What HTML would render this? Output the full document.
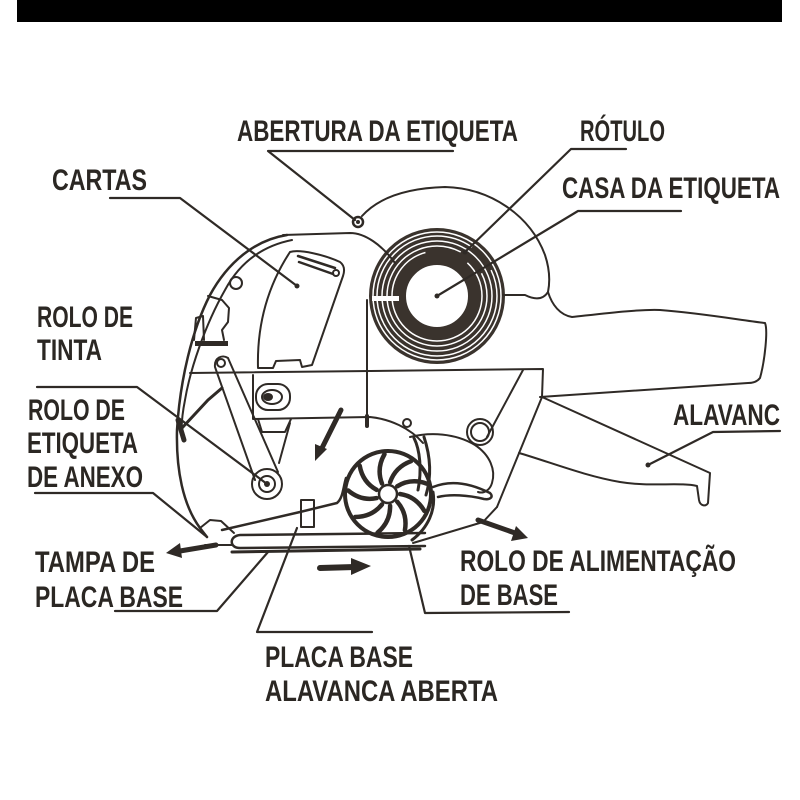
<!DOCTYPE html>
<html><head><meta charset="utf-8"><style>
html,body{margin:0;padding:0;background:#fff;}
svg{display:block}
text{font-family:"Liberation Sans",sans-serif;font-weight:bold;font-size:30px;fill:#2b2723}
</style></head><body>
<svg width="800" height="800" viewBox="0 0 800 800" xmlns="http://www.w3.org/2000/svg">
<rect x="0" y="0" width="800" height="800" fill="#fff"/>
<rect x="17" y="0" width="765" height="22" fill="#000"/>

<!-- Label roll -->
<circle cx="437" cy="296" r="50" fill="none" stroke="#3a332d" stroke-width="36"/>
<g fill="none" stroke="#fff" stroke-width="1.5">
  <circle cx="437" cy="296" r="45" stroke-dasharray="200 45"/>
  <circle cx="437" cy="296" r="50" stroke-dasharray="260 30"/>
  <circle cx="437" cy="296" r="55"/>
  <circle cx="437" cy="296" r="60" stroke-dasharray="320 30"/>
  <circle cx="437" cy="296" r="64"/>
</g>
<rect x="372" y="296" width="27" height="5" fill="#fff"/>
<circle cx="437" cy="296" r="32" fill="#fff" stroke="#3a332d" stroke-width="2"/>

<g fill="none" stroke="#2f2a26" stroke-width="2" stroke-linecap="round" stroke-linejoin="round">
  <!-- top housing arc -->
  <path d="M362,216 C380,196 410,188 445,187 C490,188 530,215 545,255 C550,270 550,282 548,292"/>
  <path d="M503,295 L525,295 C535,300 543,300 548,292"/>
  <!-- upper handle -->
  <path d="M548,292 C552,305 560,315 572,317 C600,314 640,309 660,310 C700,313 740,320 765,323 C768,330 765,360 760,378 C757,382 752,383 748,383 L540,397"/>
  <!-- band -->
  <path d="M190,373 L543,369 L542,397"/>
  <path d="M523,370 L487,437"/>
  <path d="M542,397 L497,507"/>
  <!-- lower lever -->
  <path d="M542,397 L710,473 L708,503 C706,507 700,506 699,500 L697,486 C680,482 650,487 620,482 C585,476 550,462 519,453"/>
  <path d="M253,375 L253,419 L370,417 C390,419 410,428 423,443"/>
  <rect x="256" y="384" width="34" height="26" rx="12"/>
  <ellipse cx="272" cy="397" rx="10" ry="7"/>
  <path d="M258,419 L262,432 L285,432 L291,419"/>
  <path d="M290,423 L279,463"/>
  <!-- card -->
  <path d="M290,252 C300,249 325,255 340,262 C344,265 345,270 343,276 L312,365 L302,367 L300,360 L276,361 L273,368 L258,368 C257,330 265,290 290,252 Z"/>
  <path d="M298,256 L335,268 M299,262 L333,274" stroke-width="2.5"/>
  <circle cx="336" cy="273" r="3"/>
  <!-- left housing -->
  <path d="M287,235 C255,240 228,262 210,295 C192,330 180,380 177,430 C176,470 183,505 200,528 L207,537" stroke-width="2.5"/>
  <path d="M292,240 C262,246 240,262 225,290 C205,325 190,370 185,400 C182,415 181,425 182,435"/>
  <path d="M283,235 L350,233 C365,233 382,245 395,263"/>
  <circle cx="236" cy="283" r="6"/>
  <path d="M208,296 L222,300 L229,308 L228,322 L222,330 L224,340"/>
  <path d="M194,340 L196,318 L203,316 L204,340"/>
  <path d="M182,428 L208,400 L222,388" stroke-width="3"/>
  <path d="M178,420 L184,440" stroke-width="5"/>
  <!-- arm -->
  <path d="M215,367 L255,480 M228,358 L278,472 M215,367 C214,358 222,354 228,358"/>
  <circle cx="221" cy="363" r="4"/>
  <circle cx="267" cy="484" r="15"/>
  <circle cx="267" cy="484" r="8"/>
  <!-- tape line -->
  <path d="M367,300 L367,423"/>
  <path d="M367,416 L367,426" stroke-width="4"/>
  <!-- gear -->
  <circle cx="388" cy="494" r="43" stroke-width="4"/>
  <circle cx="388" cy="494" r="9" stroke-width="2.5"/>
  <g stroke-width="4.5" transform="translate(0,2)">
    <path d="M400,492 Q415.9,494.4 424.3,508.9"/>
    <path d="M397.2,499.7 Q407.8,511.8 404.9,528.3"/>
    <path d="M390.1,503.8 Q390.4,519.9 377.6,530.6"/>
    <path d="M382,502.4 Q371.9,514.9 355.2,515"/>
    <path d="M376.7,496.1 Q361,499.3 348.2,488.5"/>
    <path d="M376.7,487.9 Q362.6,480.2 359.7,463.7"/>
    <path d="M382,481.6 Q376.2,466.6 384.5,452.2"/>
    <path d="M390.1,480.2 Q395.3,465 411,459.2"/>
    <path d="M397.2,484.3 Q410.9,475.9 426.6,481.6"/>
  </g>
  <path d="M414,438 C420,450 422,470 418,490 M424,437 C430,455 432,475 426,495" stroke-width="3"/>
  <path d="M410,437 C430,432 455,433 475,445 C490,455 496,470 492,483 C490,490 484,494 478,492"/>
  <path d="M433,487 C450,480 470,483 490,493 C494,497 490,500 484,499 C468,495 450,494 438,497" stroke-width="2.5"/>
  <path d="M433,492 C436,510 428,528 412,540" stroke-width="3"/>
  <path d="M413,543 L483,522 L497,507"/>
  <circle cx="407" cy="423" r="4"/>
  <circle cx="480" cy="432" r="13"/>
  <circle cx="480" cy="432" r="9"/>
  <!-- base plate -->
  <path d="M425,533 L240,535 C229,536 229,548 240,548 L425,546" stroke-width="2.5"/>
  <path d="M232,552 L420,549" stroke-width="3"/>
  <path d="M222,530 L300,512 L337,503 C343,498 343,488 346,478" stroke-width="2.5"/>
  <rect x="301" y="500" width="13" height="27"/>
  <path d="M200,528 L210,520 L221,521 L234,533 M205,545 L232,545"/>
  <!-- leaders -->
  <path d="M453,151 L268,151 L355,220" stroke-width="2.2"/>
  <path d="M626,149 L571,149 L465,252" stroke-width="2.2"/>
  <path d="M681,211 L578,211 L437,296" stroke-width="2.2"/>
  <path d="M110,198 L180,198 L297,286" stroke-width="2.2"/>
  <path d="M37,387 L137,387 L267,484" stroke-width="2.2"/>
  <path d="M35,493 L153,493 L207,537" stroke-width="2.2"/>
  <path d="M115,611 L217,611 L268,552" stroke-width="2.2"/>
  <path d="M372,632 L257,632 L297,528" stroke-width="2.2"/>
  <path d="M569,612 L425,613 L409,546" stroke-width="2.2"/>
  <path d="M780,431 L713,432 L648,465" stroke-width="2.2"/>
  <circle cx="358" cy="222" r="5" stroke-width="2.5"/>
</g>

<!-- dots -->
<g fill="#2f2a26">
  <circle cx="358" cy="222" r="2"/>
  <circle cx="465" cy="252" r="2.5"/>
  <circle cx="437" cy="296" r="2.5"/>
  <circle cx="297" cy="286" r="2.5"/>
  <circle cx="648" cy="465" r="2.5"/>
  <circle cx="267" cy="484" r="3"/>
  <ellipse cx="268" cy="397" rx="5" ry="4"/>
  <rect x="195" y="341" width="33" height="5"/>
  <!-- arrows -->
  <path d="M341,410 L322,448" stroke="#2f2a26" stroke-width="5" stroke-linecap="round"/>
  <polygon points="315,461 327,449 315,444"/>
  <path d="M320,568 L355,567" stroke="#2f2a26" stroke-width="6" stroke-linecap="round"/>
  <polygon points="351,558 371,566 351,575"/>
  <path d="M478,520 L515,533" stroke="#2f2a26" stroke-width="5" stroke-linecap="round"/>
  <polygon points="528,538 511,541 516,526"/>
  <path d="M216,545 L180,551" stroke="#2f2a26" stroke-width="5" stroke-linecap="round"/>
  <polygon points="166,553 182,558 180,543"/>
</g>

<!-- text -->
<text x="237" y="141" textLength="281" lengthAdjust="spacingAndGlyphs">ABERTURA DA ETIQUETA</text>
<text x="580" y="141" textLength="85" lengthAdjust="spacingAndGlyphs">RÓTULO</text>
<text x="52" y="190" textLength="95" lengthAdjust="spacingAndGlyphs">CARTAS</text>
<text x="562" y="198" textLength="218" lengthAdjust="spacingAndGlyphs">CASA DA ETIQUETA</text>
<text x="37" y="327" textLength="96" lengthAdjust="spacingAndGlyphs">ROLO DE</text>
<text x="37" y="360" textLength="65" lengthAdjust="spacingAndGlyphs">TINTA</text>
<text x="28" y="420" textLength="97" lengthAdjust="spacingAndGlyphs">ROLO DE</text>
<text x="27" y="453" textLength="111" lengthAdjust="spacingAndGlyphs">ETIQUETA</text>
<text x="27" y="487" textLength="116" lengthAdjust="spacingAndGlyphs">DE ANEXO</text>
<text x="673" y="425" textLength="107" lengthAdjust="spacingAndGlyphs">ALAVANC</text>
<text x="35" y="572" textLength="120" lengthAdjust="spacingAndGlyphs">TAMPA DE</text>
<text x="35" y="607" textLength="148" lengthAdjust="spacingAndGlyphs">PLACA BASE</text>
<text x="460" y="571" textLength="276" lengthAdjust="spacingAndGlyphs">ROLO DE ALIMENTAÇÃO</text>
<text x="460" y="605" textLength="98" lengthAdjust="spacingAndGlyphs">DE BASE</text>
<text x="265" y="667" textLength="148" lengthAdjust="spacingAndGlyphs">PLACA BASE</text>
<text x="265" y="701" textLength="233" lengthAdjust="spacingAndGlyphs">ALAVANCA ABERTA</text>
</svg>
</body></html>
